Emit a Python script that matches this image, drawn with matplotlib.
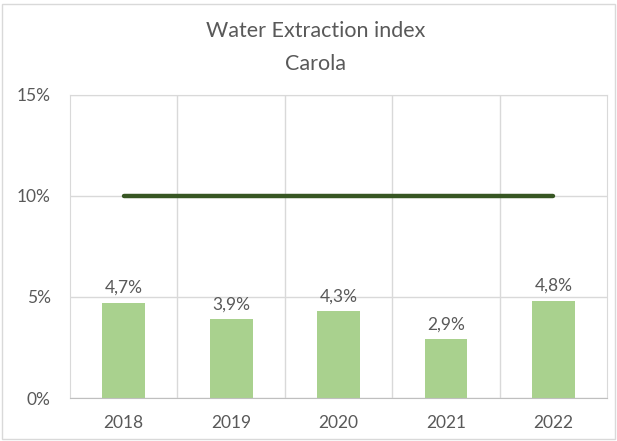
import matplotlib.pyplot as plt
from matplotlib.patches import Rectangle

years = ['2018', '2019', '2020', '2021', '2022']
wei = [4.7, 3.9, 4.3, 2.9, 4.8]
threshold = [10, 10, 10, 10, 10]
yticks = [0, 5, 10, 15]

TEXT = '#595959'
plt.rcParams['font.family'] = ['Lato', 'DejaVu Sans']

fig = plt.figure(figsize=(6.17, 4.41), dpi=100)
ax = fig.add_axes([0.1135, 0.0975, 0.8705, 0.6875])

x = range(len(years))
ax.bar(x, wei, width=0.4, color='#a9d18e', zorder=2)
ax.plot(x, threshold, color='#375623', lw=3.2, solid_capstyle='round', zorder=3)

for i, v in enumerate(wei):
    ax.annotate(f'{v:.1f}%'.replace('.', ','), (i, v), xytext=(0, 5),
                textcoords='offset points', ha='center', va='bottom',
                fontsize=12.5, color=TEXT)

ax.set_xlim(-0.5, len(years) - 0.5)
ax.set_ylim(0, 15)
ax.set_yticks(yticks)
ax.set_yticklabels([f'{t}%' for t in yticks])
ax.set_xticks(list(x))
ax.set_xticklabels(years)
ax.set_xticks([i + 0.5 for i in range(len(years) - 1)], minor=True)
ax.tick_params(which='both', length=0, labelsize=12.5, colors=TEXT, pad=12)
ax.tick_params(axis='y', pad=14)
ax.grid(axis='y', color='#d9d9d9', lw=1, zorder=0)
ax.grid(axis='x', which='minor', color='#d9d9d9', lw=1, zorder=0)
for side in ['top', 'right', 'left']:
    ax.spines[side].set_color('#d9d9d9')
ax.spines['bottom'].set_color('#bfbfbf')

fig.text(0.512, 0.93, 'Water Extraction index', ha='center', va='center',
         fontsize=15.5, color=TEXT)
fig.text(0.512, 0.855, 'Carola', ha='center', va='center',
         fontsize=15.5, color=TEXT)

fig.patches.append(Rectangle((0.003, 0.005), 0.994, 0.985, transform=fig.transFigure,
                             fill=False, edgecolor='#d9d9d9', lw=1))

fig.savefig('out.png', dpi=100)
